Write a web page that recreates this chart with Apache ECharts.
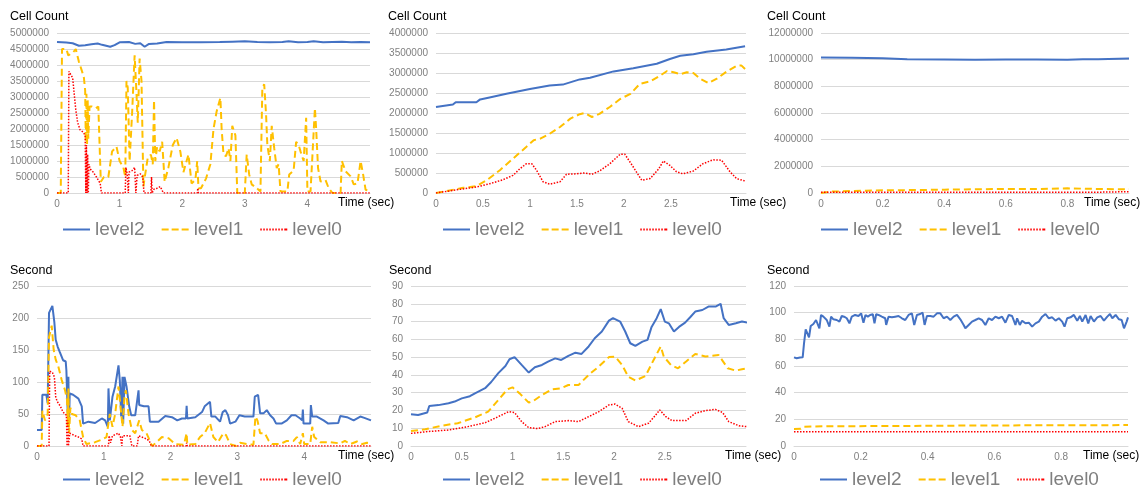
<!DOCTYPE html>
<html>
<head>
<meta charset="utf-8">
<script src="https://cdn.jsdelivr.net/npm/echarts@6/dist/echarts.min.js"></script>
<style>
html,body{margin:0;padding:0;background:#fff;}
#chart{width:1144px;height:490px;}
</style>
</head>
<body>
<div id="chart"></div>
<script>
var seriesNames = ['level2', 'level1', 'level0'];
var colorlist = ['#4472c4', '#ffc000', '#ff0000'];

// 上排 Cell Count, 下排 Second ; [时间(sec), 数值]
var cellA2 = [[0,4.72e6],[0.15,4.70e6],[0.25,4.68e6],[0.35,4.60e6],[0.45,4.62e6],[0.55,4.65e6],[0.65,4.67e6],[0.72,4.63e6],[0.85,4.57e6],[0.92,4.62e6],[1.0,4.71e6],[1.15,4.72e6],[1.25,4.66e6],[1.33,4.68e6],[1.4,4.57e6],[1.47,4.66e6],[1.6,4.67e6],[1.75,4.72e6],[2.0,4.71e6],[2.3,4.71e6],[2.6,4.72e6],[2.8,4.73e6],[3.0,4.74e6],[3.2,4.72e6],[3.4,4.71e6],[3.6,4.72e6],[3.7,4.74e6],[3.85,4.71e6],[4.0,4.72e6],[4.1,4.74e6],[4.25,4.71e6],[4.4,4.72e6],[4.55,4.73e6],[4.7,4.71e6],[4.85,4.72e6],[5.0,4.71e6]];
var cellA1 = [[0,0],[0.06,0],[0.08,4.5e6],[0.15,4.5e6],[0.18,4.3e6],[0.22,4.35e6],[0.26,4.4e6],[0.3,4.5e6],[0.35,4.1e6],[0.4,3.8e6],[0.43,3.6e6],[0.45,3.2e6],[0.46,1.6e6],[0.47,3.1e6],[0.48,1.5e6],[0.49,2.9e6],[0.5,1.7e6],[0.52,2.7e6],[0.56,2.7e6],[0.62,2.65e6],[0.66,2.7e6],[0.7,0.35e6],[0.75,0.5e6],[0.82,0.5e6],[0.88,1.3e6],[0.95,1.45e6],[1.0,1.0e6],[1.06,0.8e6],[1.09,0.5e6],[1.11,3.5e6],[1.13,3.3e6],[1.16,1.0e6],[1.2,2.5e6],[1.24,4.3e6],[1.27,3.1e6],[1.29,2.2e6],[1.32,4.2e6],[1.35,3.5e6],[1.38,0.2e6],[1.41,0.6e6],[1.45,1.1e6],[1.5,1.2e6],[1.53,0.9e6],[1.55,2.9e6],[1.57,1.0e6],[1.6,1.45e6],[1.64,1.3e6],[1.68,1.6e6],[1.72,0.35e6],[1.78,0.8e6],[1.85,1.5e6],[1.91,1.72e6],[1.97,1.3e6],[2.02,0.65e6],[2.07,1.0e6],[2.1,1.2e6],[2.15,0.3e6],[2.21,0.4e6],[2.24,1.0e6],[2.26,0.15e6],[2.3,0.15e6],[2.38,0.45e6],[2.45,0.9e6],[2.5,2.0e6],[2.55,2.55e6],[2.61,2.97e6],[2.63,2.0e6],[2.66,1.2e6],[2.7,1.15e6],[2.74,1.4e6],[2.77,1.0e6],[2.8,2.1e6],[2.85,1.8e6],[2.88,0],[3.0,0],[3.03,1.2e6],[3.07,0.58e6],[3.11,0.27e6],[3.19,0.15e6],[3.25,0.05e6],[3.28,3.28e6],[3.31,3.4e6],[3.34,2.45e6],[3.36,1.5e6],[3.4,1.0e6],[3.43,2.1e6],[3.45,2.1e6],[3.47,1.4e6],[3.51,0.78e6],[3.54,0.9e6],[3.57,0.05e6],[3.68,0.05e6],[3.71,0.58e6],[3.78,0.7e6],[3.82,1.6e6],[3.86,1.5e6],[3.89,1.3e6],[3.94,1.0e6],[3.98,2.35e6],[4.0,0.05e6],[4.05,0.05e6],[4.12,2.65e6],[4.14,2.0e6],[4.17,0.78e6],[4.21,0.36e6],[4.29,0.4e6],[4.34,0.15e6],[4.4,0],[4.53,0],[4.55,1.0e6],[4.61,0.68e6],[4.69,0.52e6],[4.74,0.27e6],[4.8,0.3e6],[4.85,1.0e6],[4.89,0.58e6],[4.93,0.1e6],[4.96,0.15e6],[5.0,0.05e6]];
var cellA0 = [[0,0],[0.18,0],[0.19,3.8e6],[0.22,3.75e6],[0.25,3.6e6],[0.28,3.0e6],[0.3,2.6e6],[0.33,2.2e6],[0.37,1.97e6],[0.42,1.9e6],[0.45,1.8e6],[0.46,0],[0.47,1.5e6],[0.48,0],[0.49,1.2e6],[0.5,0],[0.51,0.9e6],[0.53,0.75e6],[0.58,0.65e6],[0.63,0.5e6],[0.69,0.3e6],[0.71,0],[1.09,0],[1.1,0.8e6],[1.12,0.6e6],[1.14,0],[1.15,0.65e6],[1.2,0.7e6],[1.24,0.8e6],[1.26,0],[1.28,0.55e6],[1.33,0.6e6],[1.37,0.5e6],[1.39,0],[1.5,0],[1.51,0.5e6],[1.52,0],[1.55,0.12e6],[1.6,0.15e6],[1.65,0.2e6],[1.7,0],[2.24,0],[2.25,0.15e6],[2.26,0],[5.0,0]];

var cellB2 = [[0,2.15e6],[0.18,2.21e6],[0.21,2.27e6],[0.3,2.27e6],[0.43,2.27e6],[0.47,2.34e6],[0.57,2.39e6],[0.75,2.48e6],[1.0,2.6e6],[1.21,2.69e6],[1.35,2.71e6],[1.53,2.84e6],[1.64,2.88e6],[1.89,3.04e6],[2.1,3.12e6],[2.35,3.23e6],[2.49,3.35e6],[2.6,3.43e6],[2.74,3.47e6],[2.88,3.53e6],[3.09,3.59e6],[3.29,3.67e6]];
var cellB1 = [[0,0],[0.29,0.13e6],[0.43,0.17e6],[0.54,0.32e6],[0.68,0.57e6],[0.82,0.86e6],[0.96,1.15e6],[1.04,1.32e6],[1.11,1.36e6],[1.21,1.48e6],[1.32,1.65e6],[1.43,1.86e6],[1.53,1.97e6],[1.58,2.0e6],[1.66,1.9e6],[1.74,1.98e6],[1.85,2.15e6],[1.96,2.35e6],[2.07,2.48e6],[2.17,2.73e6],[2.28,2.79e6],[2.39,2.94e6],[2.46,3.05e6],[2.53,3.02e6],[2.6,2.97e6],[2.67,3.02e6],[2.74,3.0e6],[2.81,2.86e6],[2.9,2.75e6],[2.99,2.86e6],[3.09,3.03e6],[3.2,3.18e6],[3.25,3.19e6],[3.29,3.1e6]];
var cellB0 = [[0,0],[0.22,0.08e6],[0.43,0.15e6],[0.57,0.23e6],[0.71,0.33e6],[0.82,0.44e6],[0.89,0.6e6],[0.96,0.73e6],[1.02,0.73e6],[1.07,0.57e6],[1.14,0.28e6],[1.21,0.22e6],[1.32,0.28e6],[1.39,0.47e6],[1.5,0.48e6],[1.57,0.5e6],[1.66,0.47e6],[1.74,0.55e6],[1.85,0.73e6],[1.96,0.97e6],[2.01,0.97e6],[2.1,0.65e6],[2.19,0.32e6],[2.28,0.36e6],[2.37,0.6e6],[2.42,0.8e6],[2.49,0.69e6],[2.56,0.53e6],[2.63,0.48e6],[2.74,0.55e6],[2.84,0.73e6],[2.95,0.83e6],[3.04,0.82e6],[3.13,0.53e6],[3.2,0.36e6],[3.29,0.3e6]];

var cellC2 = [[0,10.17e6],[0.1,10.15e6],[0.2,10.1e6],[0.28,10.03e6],[0.4,10.02e6],[0.5,10.0e6],[0.6,10.01e6],[0.7,10.02e6],[0.8,9.99e6],[0.85,10.03e6],[0.9,10.04e6],[1.0,10.08e6]];
var cellC1 = [[0,0],[0.03,0.1e6],[0.1,0.15e6],[0.2,0.2e6],[0.3,0.22e6],[0.4,0.25e6],[0.5,0.28e6],[0.6,0.3e6],[0.7,0.3e6],[0.8,0.35e6],[0.9,0.3e6],[1.0,0.28e6]];
var cellC0 = [[0,0.05e6],[0.5,0.05e6],[0.9,0.06e6],[1.0,0.1e6]];

var secA2 = [[0,25],[0.07,25],[0.08,80],[0.14,80],[0.16,67],[0.18,208],[0.2,210],[0.23,219],[0.26,193],[0.28,166],[0.31,155],[0.34,147],[0.39,134],[0.43,132],[0.44,118],[0.46,51],[0.47,108],[0.48,36],[0.49,82],[0.54,80],[0.62,74],[0.67,62],[0.69,35],[0.77,38],[0.87,36],[0.97,43],[1.02,40],[1.06,30],[1.07,90],[1.09,40],[1.13,77],[1.17,93],[1.22,126],[1.24,102],[1.26,46],[1.28,108],[1.29,35],[1.31,108],[1.34,93],[1.38,62],[1.41,48],[1.47,48],[1.52,87],[1.53,64],[1.6,62],[1.67,62],[1.69,38],[1.82,38],[1.92,47],[2.02,45],[2.1,40],[2.17,43],[2.23,43],[2.24,63],[2.25,43],[2.37,45],[2.47,53],[2.51,62],[2.59,69],[2.61,46],[2.67,46],[2.74,38],[2.78,53],[2.82,56],[2.86,48],[2.89,35],[2.97,38],[3.03,48],[3.11,46],[3.24,46],[3.26,77],[3.28,80],[3.31,80],[3.34,51],[3.39,51],[3.44,56],[3.49,48],[3.54,43],[3.58,35],[3.66,35],[3.74,40],[3.81,48],[3.87,48],[3.94,43],[3.97,40],[3.98,57],[3.99,35],[4.09,35],[4.1,64],[4.12,46],[4.19,46],[4.29,40],[4.36,35],[4.51,36],[4.54,47],[4.64,45],[4.74,40],[4.84,46],[4.9,44],[5.0,40]];
var secA1 = [[0,0],[0.07,0],[0.08,55],[0.12,40],[0.16,50],[0.18,170],[0.22,188],[0.25,150],[0.28,135],[0.32,124],[0.37,103],[0.42,87],[0.45,72],[0.46,30],[0.47,90],[0.48,20],[0.5,60],[0.52,50],[0.58,48],[0.64,40],[0.69,14],[0.74,3],[0.87,6],[0.97,10],[1.04,14],[1.09,50],[1.13,30],[1.17,50],[1.22,93],[1.25,62],[1.28,30],[1.31,77],[1.33,87],[1.37,50],[1.42,25],[1.47,20],[1.53,40],[1.57,25],[1.64,20],[1.69,8],[1.72,0],[1.77,4],[1.87,14],[1.97,12],[2.07,3],[2.2,2],[2.24,20],[2.25,2],[2.37,3],[2.44,14],[2.51,20],[2.59,36],[2.64,14],[2.71,6],[2.79,20],[2.83,17],[2.89,3],[2.98,0],[3.04,5],[3.14,3],[3.24,2],[3.27,46],[3.3,40],[3.34,20],[3.41,20],[3.47,8],[3.52,3],[3.64,3],[3.74,8],[3.84,8],[3.89,14],[3.94,3],[3.98,20],[4.0,3],[4.09,3],[4.12,30],[4.15,14],[4.24,6],[4.39,6],[4.54,4],[4.61,8],[4.69,3],[4.79,7],[4.87,3],[4.94,5],[5.0,4]];
var secA0 = [[0,0],[0.18,0],[0.19,117],[0.23,115],[0.26,108],[0.28,77],[0.3,70],[0.35,62],[0.39,53],[0.44,48],[0.45,0],[0.46,40],[0.47,0],[0.49,20],[0.57,16],[0.62,14],[0.67,11],[0.69,0],[1.07,0],[1.08,16],[1.1,5],[1.13,16],[1.22,20],[1.25,14],[1.27,0],[1.28,16],[1.39,16],[1.42,0],[1.5,0],[1.52,16],[1.64,11],[1.68,8],[1.71,0],[2.23,0],[2.24,5],[2.25,0],[5.0,0]];

var secB2 = [[0,17.8],[0.07,17.4],[0.16,18.8],[0.18,22.5],[0.27,23],[0.37,24],[0.43,25],[0.5,26.8],[0.58,28],[0.63,29.6],[0.73,32.5],[0.79,36],[0.86,41],[0.93,45],[0.97,48.8],[1.02,50],[1.09,45.6],[1.16,41.3],[1.22,44.3],[1.29,45.6],[1.35,47.5],[1.42,49.3],[1.48,48.4],[1.55,50.7],[1.62,52.5],[1.68,51.8],[1.75,56],[1.81,60.6],[1.88,64.4],[1.95,70.5],[1.99,71.9],[2.06,70],[2.11,64.4],[2.16,57.8],[2.21,56.3],[2.28,58.7],[2.33,59.7],[2.37,67],[2.42,71.9],[2.46,77],[2.5,70],[2.54,69],[2.59,64.4],[2.64,67],[2.7,69.4],[2.75,72.4],[2.8,75.6],[2.87,76.5],[2.93,78.4],[3.0,78.4],[3.05,80],[3.08,71.9],[3.13,68.1],[3.2,69],[3.26,70],[3.31,69.4]];
var secB1 = [[0,8.4],[0.14,9.4],[0.3,11.4],[0.46,12.8],[0.63,16.1],[0.76,19.3],[0.86,25.9],[0.95,31.9],[1.0,33],[1.07,29.6],[1.16,24.4],[1.21,25.5],[1.29,28.7],[1.39,31.9],[1.48,32.5],[1.55,34.3],[1.65,34.3],[1.75,40],[1.85,44.7],[1.95,50],[2.01,50.3],[2.08,45.6],[2.14,39],[2.21,36.8],[2.31,39.4],[2.39,48.4],[2.46,56],[2.49,50.3],[2.56,45.6],[2.63,43.7],[2.71,47.5],[2.8,51.8],[2.9,50.3],[3.03,51.2],[3.12,43.7],[3.2,42.4],[3.26,43.2],[3.31,43.7]];
var secB0 = [[0,7.1],[0.16,8.1],[0.37,9],[0.56,10.9],[0.73,13.1],[0.86,16.5],[0.96,19.3],[1.02,18.8],[1.09,13.7],[1.16,10.3],[1.25,9.8],[1.32,10.9],[1.42,13.7],[1.55,14.3],[1.65,13.7],[1.75,16.5],[1.85,19.3],[1.95,23.1],[2.01,23.6],[2.08,21.2],[2.14,13.7],[2.24,10.9],[2.34,12.8],[2.41,17.4],[2.45,20.3],[2.51,16.5],[2.57,14.3],[2.71,14.3],[2.8,18.4],[2.9,19.9],[3.0,20.6],[3.07,18.8],[3.13,13.7],[3.23,11.4],[3.31,10.9]];

var secC2 = [[0,66.5],[0.008,65.8],[0.018,66.3],[0.026,66.5],[0.03,77],[0.035,87.5],[0.04,89],[0.045,81.5],[0.05,90],[0.058,91.5],[0.066,94.5],[0.071,95.8],[0.076,88.3],[0.081,98.3],[0.088,97],[0.098,94.5],[0.106,89.5],[0.111,97],[0.118,95],[0.128,94.5],[0.136,93.3],[0.143,97.5],[0.15,97],[0.158,95.8],[0.166,92],[0.173,97],[0.183,98.3],[0.193,97.5],[0.201,99.5],[0.208,92.5],[0.214,98.3],[0.221,97],[0.228,98.3],[0.236,98.8],[0.241,92],[0.246,98.8],[0.253,98.3],[0.263,97],[0.273,95.8],[0.276,90.8],[0.283,97],[0.293,96.5],[0.303,97],[0.313,97.5],[0.323,95.8],[0.333,94.5],[0.343,98.3],[0.353,99.5],[0.36,90.8],[0.368,98.3],[0.378,99],[0.385,100],[0.391,90.8],[0.398,97.5],[0.408,97.5],[0.418,97],[0.428,99.5],[0.438,99.5],[0.448,95.8],[0.458,97],[0.468,94.5],[0.478,97],[0.488,98.3],[0.498,95],[0.508,90.8],[0.513,88.3],[0.523,90.8],[0.533,93.3],[0.543,94.5],[0.553,95.8],[0.563,94.5],[0.573,90.8],[0.583,95.8],[0.593,94.5],[0.603,97],[0.613,95.8],[0.623,97],[0.633,92.5],[0.643,98.3],[0.653,97.5],[0.663,90.8],[0.668,95.8],[0.676,90.8],[0.683,94],[0.693,92],[0.703,92.5],[0.713,89.5],[0.723,92],[0.733,93.3],[0.743,97],[0.753,99],[0.763,95.8],[0.773,96.5],[0.783,94],[0.793,95.8],[0.803,93.3],[0.81,89.5],[0.818,95.8],[0.828,96.5],[0.838,98.3],[0.848,94],[0.856,97.5],[0.863,93.3],[0.873,98.3],[0.881,92],[0.888,97.5],[0.898,93.3],[0.908,96.5],[0.918,97.5],[0.928,94],[0.938,97],[0.946,99],[0.953,95.8],[0.963,98.3],[0.973,95],[0.981,94.5],[0.988,88.3],[0.996,93.3],[1.0,96.5]];
var secC1 = [[0,12.7],[0.02,12.9],[0.03,14.5],[0.1,14.8],[0.3,15.0],[0.5,15.3],[0.7,15.5],[0.9,15.6],[1.0,15.7]];
var secC0 = [[0,10.6],[0.5,10.6],[1.0,10.6]];

// 每个小图的位置与坐标轴设置
var panels = [
	{title: 'Cell Count', data: [cellA2, cellA1, cellA0], titleX: 10, titleY: 10, left: 57, top: 33, width: 313, xMax: 5, xStep: 1, hideFrom: 5, yMax: 5e6, yStep: 5e5, nameGap: -32, legendX: 63, legendY: 220},
	{title: 'Cell Count', data: [cellB2, cellB1, cellB0], titleX: 388, titleY: 10, left: 436, top: 33, width: 310, xMax: 3.3, xStep: 0.5, hideFrom: 3, yMax: 4e6, yStep: 5e5, nameGap: -16, legendX: 443, legendY: 220},
	{title: 'Cell Count', data: [cellC2, cellC1, cellC0], titleX: 767, titleY: 10, left: 821, top: 33, width: 308, xMax: 1, xStep: 0.2, hideFrom: 1, yMax: 12e6, yStep: 2e6, nameGap: -45, legendX: 821, legendY: 220},
	{title: 'Second', data: [secA2, secA1, secA0], titleX: 10, titleY: 264, left: 37, top: 286, width: 334, xMax: 5, xStep: 1, hideFrom: 5, yMax: 250, yStep: 50, nameGap: -33, legendX: 63, legendY: 470},
	{title: 'Second', data: [secB2, secB1, secB0], titleX: 389, titleY: 264, left: 411, top: 286, width: 335, xMax: 3.3, xStep: 0.5, hideFrom: 3, yMax: 90, yStep: 10, nameGap: -21, legendX: 443, legendY: 470},
	{title: 'Second', data: [secC2, secC1, secC0], titleX: 767, titleY: 264, left: 794, top: 286, width: 334, xMax: 1, xStep: 0.2, hideFrom: 1, yMax: 120, yStep: 20, nameGap: -45, legendX: 820, legendY: 470}
];

var lineTypes = ['solid', [7, 4], [1.5, 1.5]];
var lineWidths = [2, 2, 1.5];
var legendIcons = [
	'path://M0,0H27V2H0Z',
	'path://M0,0H7V2H0Z M10,0H17V2H10Z M20,0H27V2H20Z',
	'path://M0,0H1.5V2H0Z M3,0H4.5V2H3Z M6,0H7.5V2H6Z M9,0H10.5V2H9Z M12,0H13.5V2H12Z M15,0H16.5V2H15Z M18,0H19.5V2H18Z M21,0H22.5V2H21Z M24,0H25.5V2H24Z M25.5,0H27V2H25.5Z'
];

function numLabel(hideFrom) {
	return function (v) {
		if (hideFrom != null && v >= hideFrom - 1e-9) return '';
		return String(Math.round(v * 1000) / 1000);
	};
}

var option = {
	animation: false,
	textStyle: {fontFamily: '"Liberation Sans", Arial, sans-serif'},
	title: [], grid: [], xAxis: [], yAxis: [], legend: [], series: []
};

panels.forEach(function (p, i) {
	option.title.push({
		text: p.title, left: p.titleX, top: p.titleY, padding: 0,
		textStyle: {fontSize: 12.5, fontWeight: 'normal', color: '#000'}
	});
	option.grid.push({left: p.left, top: p.top, width: p.width, height: 160, outerBoundsMode: 'none'});
	option.xAxis.push({
		type: 'value', gridIndex: i, min: 0, max: p.xMax, interval: p.xStep,
		axisLine: {show: true, lineStyle: {color: '#d9d9d9'}},
		axisTick: {show: false},
		splitLine: {show: false},
		axisLabel: {color: '#808080', fontSize: 10, margin: 6, showMaxLabel: false, formatter: numLabel(p.hideFrom)},
		name: 'Time (sec)', nameLocation: 'end', nameGap: p.nameGap, nameMoveOverlap: false,
		nameTextStyle: {color: '#000', fontSize: 12, align: 'left', verticalAlign: 'top', padding: [4, 0, 0, 0]}
	});
	option.yAxis.push({
		type: 'value', gridIndex: i, min: 0, max: p.yMax, interval: p.yStep,
		axisLine: {show: false},
		axisTick: {show: false},
		splitLine: {lineStyle: {color: '#d9d9d9', width: 1}},
		axisLabel: {color: '#808080', fontSize: 10, margin: 8, formatter: function (v) { return String(v); }}
	});
	option.legend.push({
		left: p.legendX, top: p.legendY, padding: 0,
		itemWidth: 27, itemHeight: 2, itemGap: 17, selectedMode: false,
		textStyle: {fontSize: 19, color: '#7f7f7f'},
		data: seriesNames.map(function (n, k) {
			return {name: n, icon: legendIcons[k], itemStyle: {color: colorlist[k], borderWidth: 0}};
		})
	});
	p.data.forEach(function (d, k) {
		option.series.push({
			name: seriesNames[k], type: 'line', xAxisIndex: i, yAxisIndex: i,
			data: d, symbol: 'none', showSymbol: false,
			lineStyle: {color: colorlist[k], width: lineWidths[k], type: lineTypes[k]},
			itemStyle: {color: colorlist[k]},
			emphasis: {disabled: true}
		});
	});
});

var chartObj = echarts.init(document.getElementById('chart'));
chartObj.setOption(option);
window.onresize = chartObj.resize;
</script>
</body>
</html>
